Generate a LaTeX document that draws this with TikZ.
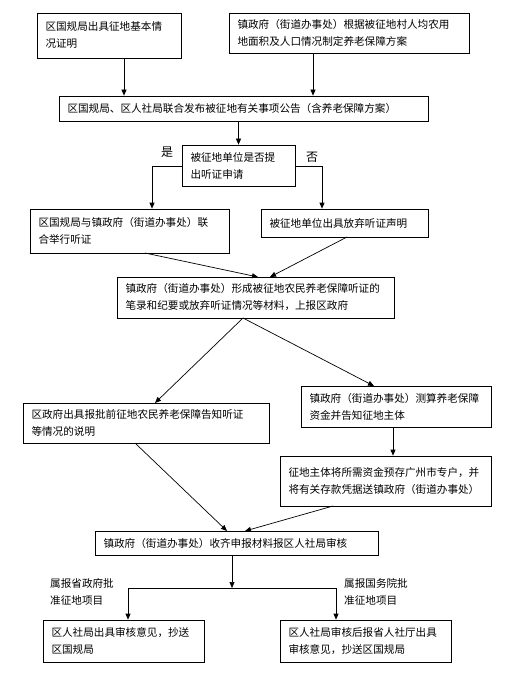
\documentclass[tikz,border=0pt]{standalone}
\usepackage{fontspec}
\newfontfamily\cjk{Noto Sans CJK SC}
\usetikzlibrary{arrows.meta}
\begin{document}
\begin{tikzpicture}[x=1pt,y=-1pt,
  box/.style={draw,line width=0.7pt,inner xsep=8.5pt,inner ysep=0pt,align=left,
    font=\cjk\fontsize{10.6}{17}\selectfont},
  lbl/.style={inner sep=0pt,align=left,font=\cjk\fontsize{10.6}{17}\selectfont},
  yn/.style={inner sep=0pt,font=\cjk\fontsize{12}{14}\selectfont},
  arr/.style={line width=0.7pt,-{Triangle[length=6pt,width=5pt]}},
  ln/.style={line width=0.7pt}]
\useasboundingbox (0,0) rectangle (516,687);
\fill[white] (0,0) rectangle (516,687);
% boxes
\node[box,text width=127pt,minimum height=45pt] (b1) at (109,35.5) {区国规局出具征地基本情\\况证明};
\node[box,text width=223pt,minimum height=40pt] (b2) at (349,33) {镇政府（街道办事处）根据被征地村人均农用\\地面积及人口情况制定养老保障方案};
\node[box,text width=352pt,minimum height=25pt] (b3) at (243.5,108.5) {区国规局、区人社局联合发布被征地有关事项公告（含养老保障方案）};
\node[box,text width=96pt,minimum height=41pt] (b4) at (238.5,165.5) {被征地单位是否提\\出听证申请};
\node[box,text width=182pt,minimum height=44pt] (b5) at (129.5,231) {区国规局与镇政府（街道办事处）联\\合举行听证};
\node[box,text width=150pt,minimum height=28pt] (b6) at (344.5,223) {被征地单位出具放弃听证声明};
\node[box,text width=260pt,minimum height=41pt] (b7) at (255.5,297.5) {镇政府（街道办事处）形成被征地农民养老保障听证的\\笔录和纪要或放弃听证情况等材料，上报区政府};
\node[box,text width=229pt,minimum height=40pt] (b8) at (146,423) {区政府出具报批前征地农民养老保障告知听证\\等情况的说明};
\node[box,text width=173pt,minimum height=41pt] (b9) at (396,406.5) {镇政府（街道办事处）测算养老保障\\资金并告知征地主体};
\node[box,text width=194pt,minimum height=50pt] (b10) at (385.5,481) {征地主体将所需资金预存广州市专户，并\\将有关存款凭据送镇政府（街道办事处）};
\node[box,text width=266pt,minimum height=24pt] (b11) at (236.5,543) {镇政府（街道办事处）收齐申报材料报区人社局审核};
\node[box,text width=144pt,minimum height=42pt] (b12) at (123.5,641) {区人社局出具审核意见，抄送\\区国规局};
\node[box,text width=154pt,minimum height=42pt] (b13) at (365.5,641) {区人社局审核后报省人社厅出具\\审核意见，抄送区国规局};
% labels
\node[yn] (yes) at (167,152) {是};
\node[yn] (no) at (312,157) {否};
\node[lbl,anchor=west] (l1) at (50,591.5) {属报省政府批\\准征地项目};
\node[lbl,anchor=west] (l2) at (344,591.5) {属报国务院批\\准征地项目};
% helper coordinates
\coordinate (x1) at (124,0);
\coordinate (x2) at (313,0);
\coordinate (x3) at (238.5,0);
\coordinate (cl) at (152,166);
\coordinate (cr) at (322,166);
\coordinate (s5) at (145,253);
\coordinate (s6) at (347,237);
\coordinate (e7a) at (258,277);
\coordinate (e7b) at (270,277);
\coordinate (s7) at (243,318);
\coordinate (e8) at (155,403);
\coordinate (e9) at (374,386);
\coordinate (x9) at (393,0);
\coordinate (s8) at (135,443);
\coordinate (s10) at (333,506);
\coordinate (e11a) at (227,531);
\coordinate (e11b) at (245,531);
\coordinate (j) at (232,588);
\coordinate (jl) at (128,588);
\coordinate (jr) at (336,588);
% connectors
\draw[arr] (b1.south -| x1) -- (b3.north -| x1);
\draw[arr] (b2.south -| x2) -- (b3.north -| x2);
\draw[arr] (b3.south -| x3) -- (b4.north -| x3);
\draw[arr] (b4.west |- cl) -- (cl) -- (b5.north -| cl);
\draw[arr] (b4.east |- cr) -- (cr) -- (b6.north -| cr);
\draw[arr] (s5) -- (e7a);
\draw[arr] (s6) -- (e7b);
\draw[arr] (s7) -- (e8);
\draw[arr] (s7) -- (e9);
\draw[arr] (b9.south -| x9) -- (b10.north -| x9);
\draw[arr] (s8) -- (e11a);
\draw[arr] (s10) -- (e11b);
\draw[arr] (b11.south -| j) -- (j);
\draw[ln] (jl) -- (jr);
\draw[arr] (jl) -- (b12.north -| jl);
\draw[arr] (jr) -- (b13.north -| jr);
\end{tikzpicture}
\end{document}
